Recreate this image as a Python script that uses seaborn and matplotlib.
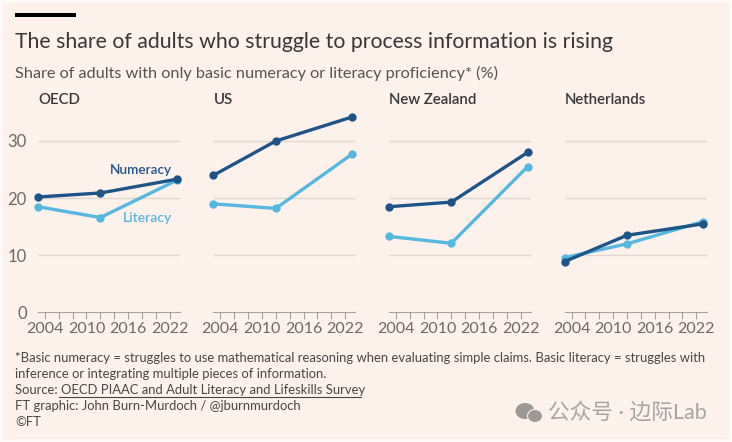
import matplotlib
matplotlib.use("Agg")
import matplotlib.pyplot as plt
import pandas as pd
import seaborn as sns
from matplotlib.patches import Ellipse, Rectangle

years = [2003, 2012, 2023]
countries = ["OECD", "US", "New Zealand", "Netherlands"]
numeracy = {
    "OECD": [20.2, 20.9, 23.3],
    "US": [24.0, 30.0, 34.2],
    "New Zealand": [18.5, 19.3, 28.0],
    "Netherlands": [8.9, 13.5, 15.5],
}
literacy = {
    "OECD": [18.5, 16.6, 23.1],
    "US": [19.0, 18.2, 27.7],
    "New Zealand": [13.3, 12.1, 25.5],
    "Netherlands": [9.6, 12.0, 15.9],
}
y_ticks = [0, 10, 20, 30]
x_labels = [2004, 2010, 2016, 2022]
x_minor = [2004, 2006, 2008, 2010, 2012, 2014, 2016, 2018, 2020, 2022]

BG = "#fdf1ec"
DARK = "#1f5488"
LIGHT = "#56b8e0"
TEXT = "#3a3633"
GREY = "#6f6864"
GRID = "#e0d7d1"

W, H = 732, 442

sns.set_theme(style="white")
plt.rcParams["font.family"] = ["Lato", "Noto Sans CJK SC", "DejaVu Sans"]

rows = []
for c in countries:
    for y, n, l in zip(years, numeracy[c], literacy[c]):
        rows.append({"country": c, "year": y, "measure": "Literacy", "value": l})
        rows.append({"country": c, "year": y, "measure": "Numeracy", "value": n})
df = pd.DataFrame(rows)

fig = plt.figure(figsize=(W / 100, H / 100), dpi=100, facecolor=BG)

def px_axes(x0, x1, y_top, y_bottom):
    return fig.add_axes([x0 / W, 1 - y_bottom / H, (x1 - x0) / W, (y_bottom - y_top) / H])

def ftext(x, y, s, **kw):
    return fig.text(x / W, 1 - y / H, s, **kw)

# the screenshot has a thin pale edge round the panel
fig.patches.append(Rectangle((0, 0), 1, 1, transform=fig.transFigure, fill=False,
                             ec="#fffaf7", lw=4))

panel_x = [38, 213.5, 389, 564.7]
for i, c in enumerate(countries):
    ax = px_axes(panel_x[i], panel_x[i] + 142, 103, 312.4)
    ax.set_facecolor("none")
    sub = df[df["country"] == c]
    ax.hlines([10, 20, 30], 2003, 2023.5, color=GRID, lw=1, zorder=1)
    sns.lineplot(data=sub, x="year", y="value", hue="measure",
                 palette={"Literacy": LIGHT, "Numeracy": DARK},
                 hue_order=["Literacy", "Numeracy"], marker="o", markersize=6,
                 markeredgewidth=0, linewidth=2.4, legend=False, ax=ax,
                 clip_on=False, zorder=3)
    ax.set_xlim(2003, 2023.5)
    ax.set_ylim(0, 36.65)
    ax.set_xlabel("")
    ax.set_ylabel("")
    ax.set_xticks(x_labels)
    ax.set_xticks(x_minor, minor=True)
    ax.set_xticklabels([str(x) for x in x_labels], fontsize=11.5, color=GREY)
    ax.tick_params(axis="x", which="both", length=5, width=0.8, color="#a9a19c",
                   bottom=True, pad=2)
    ax.set_yticks(y_ticks)
    if i == 0:
        ax.set_yticklabels([str(y) for y in y_ticks], fontsize=12, color=GREY)
        ax.tick_params(axis="y", length=0, pad=8)
    else:
        ax.tick_params(axis="y", length=0, labelleft=False)
    for s in ["top", "left", "right"]:
        ax.spines[s].set_visible(False)
    ax.spines["bottom"].set_color("#a9a19c")
    ax.spines["bottom"].set_linewidth(0.8)
    ftext(panel_x[i], 99.5, c, fontsize=10.8, color=TEXT, fontweight="semibold", va="center")

    if c == "OECD":
        ax.text(2022.4, 24.9, "Numeracy", color=DARK, fontsize=9.8, ha="right",
                va="center", fontweight="semibold")
        ax.text(2022.4, 16.6, "Literacy", color=LIGHT, fontsize=10, ha="right",
                va="center", fontweight="semibold")

# header
fig.patches.append(Rectangle((15 / W, 1 - 16.5 / H), 61 / W, 3.5 / H,
                             transform=fig.transFigure, fc="black", ec="none"))
ftext(15, 42, "The share of adults who struggle to process information is rising",
      fontsize=15.3, color=TEXT, va="center")
ftext(15, 73, "Share of adults with only basic numeracy or literacy proficiency* (%)",
      fontsize=11.7, color="#58524e", va="center")

# footnotes
notes = [
    (358, "*Basic numeracy = struggles to use mathematical reasoning when evaluating simple claims. Basic literacy = struggles with"),
    (374, "inference or integrating multiple pieces of information."),
    (390, "Source: OECD PIAAC and Adult Literacy and Lifeskills Survey"),
    (406, "FT graphic: John Burn-Murdoch / @jburnmurdoch"),
    (422, "©FT"),
]
for y, s in notes:
    ftext(15, y, s, fontsize=9.4, color="#4a4542", va="center")
fig.add_artist(plt.Line2D([59.5 / W, 361 / W], [1 - 397 / H, 1 - 397 / H], color="#4a4542", lw=0.8))

# watermark
fig.add_artist(Ellipse((525 / W, 1 - 411 / H), 19 / W, 16 / H, transform=fig.transFigure,
                       fc="#9c9894", ec="none"))
fig.add_artist(Ellipse((535 / W, 1 - 416 / H), 15 / W, 13 / H, transform=fig.transFigure,
                       fc="#9c9894", ec=BG, lw=0.8))
ftext(548, 412, "公众号 · 边际Lab", fontsize=15.6, color="#a8a4a0", va="center")

fig.savefig("out.png", dpi=100, facecolor=BG)
plt.close(fig)
